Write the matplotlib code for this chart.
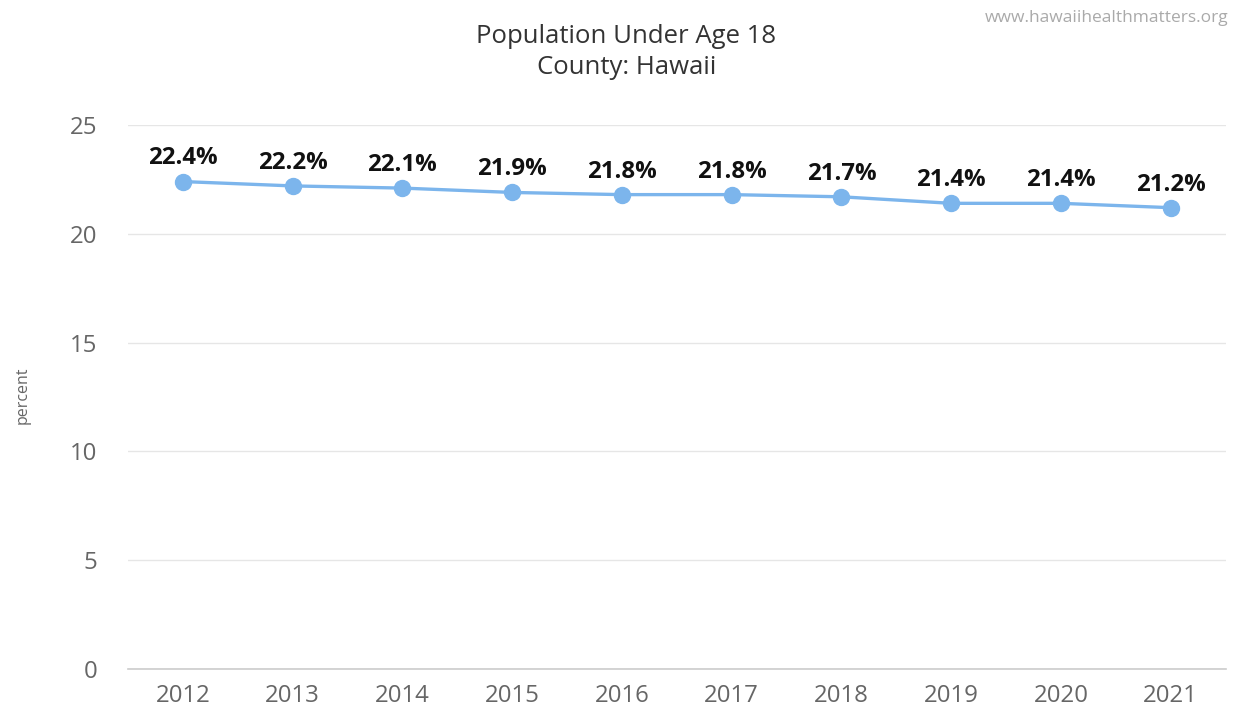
import matplotlib
matplotlib.use("Agg")
import matplotlib.pyplot as plt

years = ["2012", "2013", "2014", "2015", "2016", "2017", "2018", "2019", "2020", "2021"]
percent = [22.4, 22.2, 22.1, 21.9, 21.8, 21.8, 21.7, 21.4, 21.4, 21.2]
y_ticks = [0, 5, 10, 15, 20, 25]

plt.rcParams['font.family'] = ['Open Sans', 'DejaVu Sans']

fig = plt.figure(figsize=(12.38, 7.13), dpi=100)
ax = fig.add_axes([0.1034, 0.0617, 0.8866, 0.763])

x = list(range(len(years)))
ax.plot(x, percent, color="#7cb5ec", linewidth=2.4, marker="o",
        markersize=11.5, zorder=3)
for xi, v in zip(x, percent):
    ax.annotate(f"{v}%", (xi, v), xytext=(0, 8), textcoords="offset points",
                ha="center", va="bottom", fontsize=17.3, fontweight="bold",
                color="#111111")

ax.set_xlim(-0.5, len(years) - 0.5)
ax.set_ylim(0, 25)
ax.set_xticks(x)
ax.set_xticklabels(years)
ax.set_yticks(y_ticks)
ax.tick_params(axis="both", length=0, labelsize=17.3, colors="#666666")
ax.tick_params(axis="x", pad=11)
ax.tick_params(axis="y", pad=22)
ax.grid(axis="y", color="#e6e6e6", linewidth=1)
ax.set_axisbelow(True)
for s in ["top", "right", "left"]:
    ax.spines[s].set_visible(False)
ax.spines["bottom"].set_color("#cccccc")
ax.spines["bottom"].set_linewidth(1.2)

fig.text(0.018, 0.445, "percent", rotation=90, fontsize=11.5, color="#666666",
         ha="center", va="center")
fig.text(0.506, 0.949, "Population Under Age 18", ha="center", va="center",
         fontsize=18.5, color="#333333")
fig.text(0.506, 0.905, "County: Hawaii", ha="center", va="center",
         fontsize=18.5, color="#333333")
fig.text(0.992, 0.975, "www.hawaiihealthmatters.org", ha="right", va="center",
         fontsize=12.5, color="#aaaaaa")

fig.savefig("out.png", dpi=100, facecolor="white")
